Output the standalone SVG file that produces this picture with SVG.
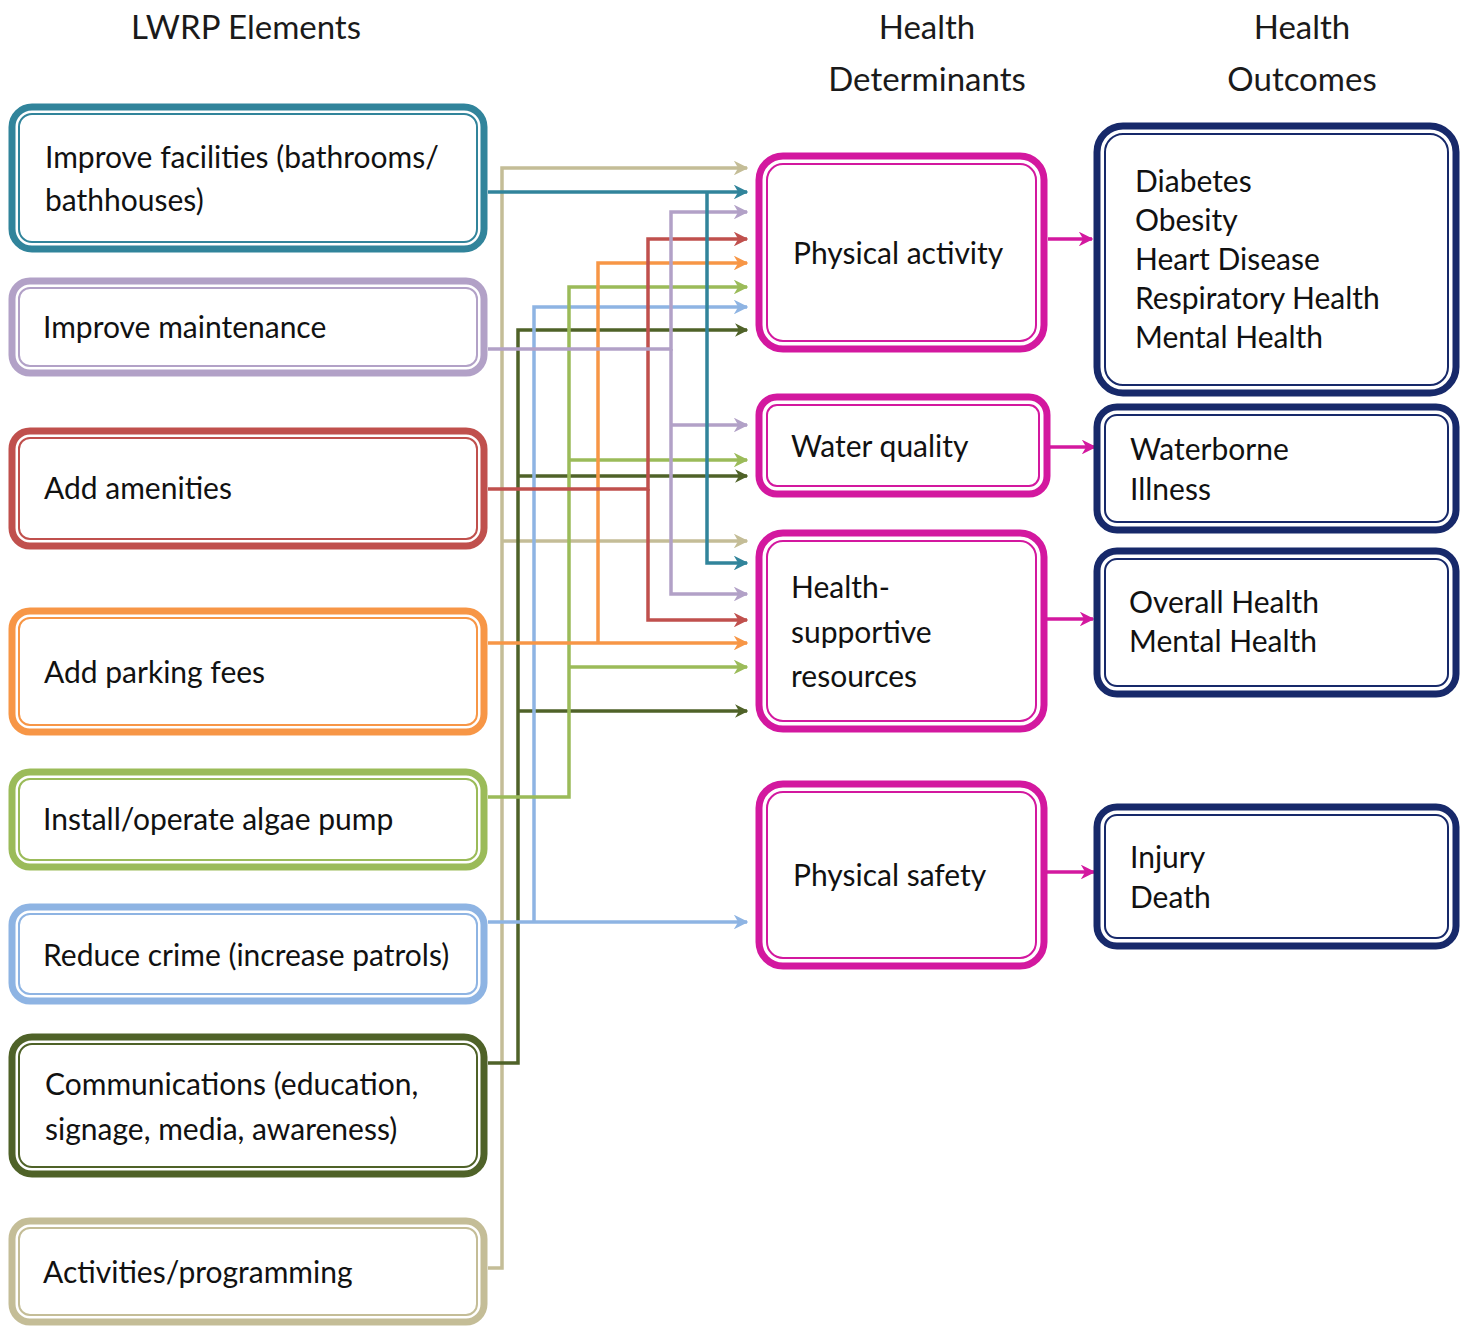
<svg xmlns="http://www.w3.org/2000/svg" width="1468" height="1328" viewBox="0 0 1468 1328">
  <style>
    text { font-family: Lato, "Open Sans", "Liberation Sans", sans-serif; font-size: 30px; fill: #111; }
    .hdr { font-size: 33px; text-anchor: middle; fill: #1a1a1a; }
    .outer { fill: #fff; stroke-width: 7; }
    .inner { fill: none; stroke-width: 2; }
    .con { fill: none; stroke-width: 3.5; stroke-linejoin: miter; }
    .teal { stroke: #31849b; } .lav { stroke: #b2a1c7; } .red { stroke: #c0504d; }
    .org { stroke: #f79646; } .grn { stroke: #9bbb59; } .blu { stroke: #8eb4e3; }
    .olv { stroke: #4f6228; } .tan { stroke: #c4bd97; } .mag { stroke: #d3189f; } .nav { stroke: #17296a; }
  </style>
  <defs>
    <marker id="ah-teal" viewBox="0 0 10 10" refX="9" refY="5" markerWidth="4.2" markerHeight="4.2" orient="auto"><path d="M0,0 L10,5 L0,10 L3,5 z" fill="#31849b"/></marker>
    <marker id="ah-lav" viewBox="0 0 10 10" refX="9" refY="5" markerWidth="4.2" markerHeight="4.2" orient="auto"><path d="M0,0 L10,5 L0,10 L3,5 z" fill="#b2a1c7"/></marker>
    <marker id="ah-red" viewBox="0 0 10 10" refX="9" refY="5" markerWidth="4.2" markerHeight="4.2" orient="auto"><path d="M0,0 L10,5 L0,10 L3,5 z" fill="#c0504d"/></marker>
    <marker id="ah-org" viewBox="0 0 10 10" refX="9" refY="5" markerWidth="4.2" markerHeight="4.2" orient="auto"><path d="M0,0 L10,5 L0,10 L3,5 z" fill="#f79646"/></marker>
    <marker id="ah-grn" viewBox="0 0 10 10" refX="9" refY="5" markerWidth="4.2" markerHeight="4.2" orient="auto"><path d="M0,0 L10,5 L0,10 L3,5 z" fill="#9bbb59"/></marker>
    <marker id="ah-blu" viewBox="0 0 10 10" refX="9" refY="5" markerWidth="4.2" markerHeight="4.2" orient="auto"><path d="M0,0 L10,5 L0,10 L3,5 z" fill="#8eb4e3"/></marker>
    <marker id="ah-olv" viewBox="0 0 10 10" refX="9" refY="5" markerWidth="3.8" markerHeight="3.8" orient="auto"><path d="M0,0 L10,5 L0,10 L3,5 z" fill="#4f6228"/></marker>
    <marker id="ah-tan" viewBox="0 0 10 10" refX="9" refY="5" markerWidth="4.2" markerHeight="4.2" orient="auto"><path d="M0,0 L10,5 L0,10 L3,5 z" fill="#c4bd97"/></marker>
    <marker id="ah-mag" viewBox="0 0 10 10" refX="9" refY="5" markerWidth="4.2" markerHeight="4.2" orient="auto"><path d="M0,0 L10,5 L0,10 L3,5 z" fill="#d3189f"/></marker>
  </defs>

  <rect width="1468" height="1328" fill="#fff"/>

  <!-- column headers -->
  <text class="hdr" x="246" y="39">LWRP Elements</text>
  <text class="hdr" x="927" y="39">Health</text>
  <text class="hdr" x="927" y="91">Determinants</text>
  <text class="hdr" x="1302" y="39">Health</text>
  <text class="hdr" x="1302" y="91">Outcomes</text>

  <!-- connectors -->
  <g id="connectors">
    <!-- Activities/programming -->
    <path class="con tan" d="M488,1268 H502 V168 H747" marker-end="url(#ah-tan)"/>
    <path class="con tan" d="M502,541 H747" marker-end="url(#ah-tan)"/>
    <!-- Communications -->
    <path class="con olv" stroke-width="4" d="M488,1063 H518 V330 H747" marker-end="url(#ah-olv)"/>
    <path class="con olv" stroke-width="4" d="M518,476 H747" marker-end="url(#ah-olv)"/>
    <path class="con olv" stroke-width="4" d="M518,711 H747" marker-end="url(#ah-olv)"/>
    <!-- Reduce crime -->
    <path class="con blu" d="M488,922 H747" marker-end="url(#ah-blu)"/>
    <path class="con blu" d="M534,922 V307 H747" marker-end="url(#ah-blu)"/>
    <!-- Algae pump -->
    <path class="con grn" d="M488,797 H569 V287 H747" marker-end="url(#ah-grn)"/>
    <path class="con grn" d="M569,460 H747" marker-end="url(#ah-grn)"/>
    <path class="con grn" d="M569,667 H747" marker-end="url(#ah-grn)"/>
    <!-- Parking fees -->
    <path class="con org" d="M488,643 H747" marker-end="url(#ah-org)"/>
    <path class="con org" d="M598,643 V263 H747" marker-end="url(#ah-org)"/>
    <!-- Amenities -->
    <path class="con red" d="M488,489 H648 V239 H747" marker-end="url(#ah-red)"/>
    <path class="con red" d="M648,489 V620 H747" marker-end="url(#ah-red)"/>
    <!-- Maintenance -->
    <path class="con lav" d="M488,349 H671 V212 H747" marker-end="url(#ah-lav)"/>
    <path class="con lav" d="M671,349 V594 H747" marker-end="url(#ah-lav)"/>
    <path class="con lav" d="M671,425 H747" marker-end="url(#ah-lav)"/>
    <!-- Facilities -->
    <path class="con teal" d="M488,192 H747" marker-end="url(#ah-teal)"/>
    <path class="con teal" d="M707,192 V563 H747" marker-end="url(#ah-teal)"/>
    <!-- determinants to outcomes -->
    <path class="con mag" d="M1048,239 H1092" marker-end="url(#ah-mag)"/>
    <path class="con mag" d="M1050,447 H1095" marker-end="url(#ah-mag)"/>
    <path class="con mag" d="M1047,619 H1093" marker-end="url(#ah-mag)"/>
    <path class="con mag" d="M1047,872 H1094" marker-end="url(#ah-mag)"/>
  </g>

  <!-- LWRP elements -->
  <g id="n-facilities">
    <rect class="outer teal" x="12" y="107" width="472" height="142" rx="20"/>
    <rect class="inner teal" x="19" y="114" width="458" height="128" rx="13"/>
    <text x="45" y="168">Improve facilities (bathrooms/</text>
    <text x="45" y="211">bathhouses)</text>
  </g>
  <g id="n-maintenance">
    <rect class="outer lav" x="12" y="281" width="472" height="92" rx="18"/>
    <rect class="inner lav" x="19" y="288" width="458" height="78" rx="11"/>
    <text x="43" y="338">Improve maintenance</text>
  </g>
  <g id="n-amenities">
    <rect class="outer red" x="12" y="431" width="472" height="115" rx="18"/>
    <rect class="inner red" x="19" y="438" width="458" height="101" rx="11"/>
    <text x="44" y="499">Add amenities</text>
  </g>
  <g id="n-parking">
    <rect class="outer org" x="12" y="611" width="472" height="121" rx="18"/>
    <rect class="inner org" x="19" y="618" width="458" height="107" rx="11"/>
    <text x="44" y="683">Add parking fees</text>
  </g>
  <g id="n-algae">
    <rect class="outer grn" x="12" y="772" width="472" height="95" rx="18"/>
    <rect class="inner grn" x="19" y="779" width="458" height="81" rx="11"/>
    <text x="43" y="830">Install/operate algae pump</text>
  </g>
  <g id="n-crime">
    <rect class="outer blu" x="12" y="907" width="472" height="94" rx="18"/>
    <rect class="inner blu" x="19" y="914" width="458" height="80" rx="11"/>
    <text x="43" y="966">Reduce crime (increase patrols)</text>
  </g>
  <g id="n-communications">
    <rect class="outer olv" x="12" y="1037" width="472" height="137" rx="20"/>
    <rect class="inner olv" x="19" y="1044" width="458" height="123" rx="13"/>
    <text x="45" y="1095">Communications (education,</text>
    <text x="45" y="1140">signage, media, awareness)</text>
  </g>
  <g id="n-activities">
    <rect class="outer tan" x="12" y="1221" width="472" height="101" rx="18"/>
    <rect class="inner tan" x="19" y="1228" width="458" height="87" rx="11"/>
    <text x="43" y="1283">Activities/programming</text>
  </g>

  <!-- health determinants -->
  <g id="n-physical-activity">
    <rect class="outer mag" x="759" y="156" width="285" height="193" rx="24"/>
    <rect class="inner mag" x="767" y="164" width="269" height="177" rx="16"/>
    <text x="793" y="264">Physical activity</text>
  </g>
  <g id="n-water-quality">
    <rect class="outer mag" x="759" y="397" width="288" height="97" rx="18"/>
    <rect class="inner mag" x="767" y="405" width="272" height="81" rx="10"/>
    <text x="791" y="457">Water quality</text>
  </g>
  <g id="n-health-resources">
    <rect class="outer mag" x="759" y="533" width="285" height="196" rx="24"/>
    <rect class="inner mag" x="767" y="541" width="269" height="180" rx="16"/>
    <text x="791" y="598">Health-</text>
    <text x="791" y="643">supportive</text>
    <text x="791" y="687">resources</text>
  </g>
  <g id="n-physical-safety">
    <rect class="outer mag" x="759" y="784" width="285" height="182" rx="24"/>
    <rect class="inner mag" x="767" y="792" width="269" height="166" rx="16"/>
    <text x="793" y="886">Physical safety</text>
  </g>

  <!-- health outcomes -->
  <g id="n-chronic">
    <rect class="outer nav" x="1097" y="126" width="359" height="267" rx="26"/>
    <rect class="inner nav" x="1105" y="134" width="343" height="251" rx="18"/>
    <text x="1135" y="192">Diabetes</text>
    <text x="1135" y="231">Obesity</text>
    <text x="1135" y="270">Heart Disease</text>
    <text x="1135" y="309">Respiratory Health</text>
    <text x="1135" y="348">Mental Health</text>
  </g>
  <g id="n-waterborne">
    <rect class="outer nav" x="1097" y="407" width="359" height="123" rx="20"/>
    <rect class="inner nav" x="1105" y="415" width="343" height="107" rx="12"/>
    <text x="1130" y="460">Waterborne</text>
    <text x="1130" y="500">Illness</text>
  </g>
  <g id="n-overall">
    <rect class="outer nav" x="1097" y="551" width="359" height="143" rx="20"/>
    <rect class="inner nav" x="1105" y="559" width="343" height="127" rx="12"/>
    <text x="1129" y="613">Overall Health</text>
    <text x="1129" y="652">Mental Health</text>
  </g>
  <g id="n-injury">
    <rect class="outer nav" x="1097" y="807" width="359" height="139" rx="20"/>
    <rect class="inner nav" x="1105" y="815" width="343" height="123" rx="12"/>
    <text x="1130" y="868">Injury</text>
    <text x="1130" y="908">Death</text>
  </g>
</svg>
